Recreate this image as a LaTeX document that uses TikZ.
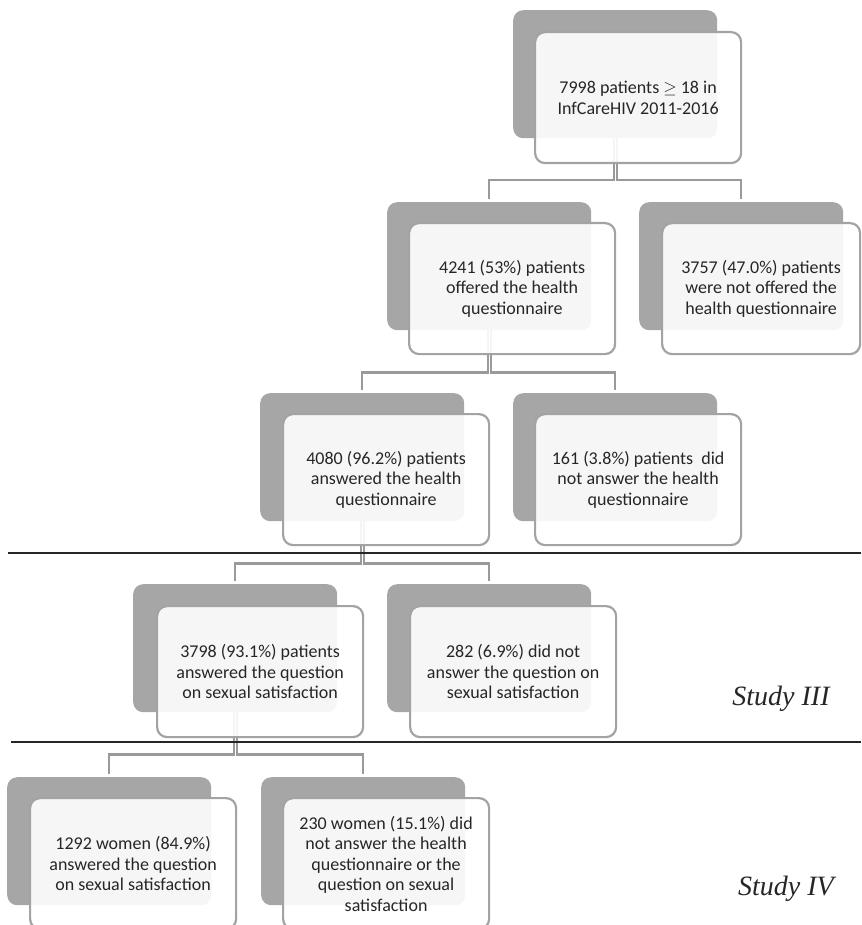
\documentclass[tikz,border=0pt]{standalone}
\usepackage{fontspec}
\setmainfont{Carlito}
\newfontfamily\studyfont{Liberation Serif}
\usetikzlibrary{calc}
\definecolor{darkbox}{HTML}{A6A6A6}
\definecolor{edgegray}{HTML}{A3A3A3}
\definecolor{conngray}{HTML}{9A9A9A}
\definecolor{txt}{HTML}{262626}
\newcommand\elbow[3]{\draw[conn] ($(#1.south)+(#3,0)$) -- ++(0,42) -| ($(#2.north)+(0,-3)$);}
\begin{document}
\begin{tikzpicture}[x=1pt,y=-1pt,
  back/.style={fill=darkbox, draw=none, rounded corners=10pt, anchor=north west,
    minimum width=204pt, minimum height=128pt, inner sep=0pt},
  front/.style={fill=white, fill opacity=0.9, text opacity=1, draw=edgegray, line width=2.2pt,
    rounded corners=10pt, anchor=north west, minimum width=206pt, minimum height=131pt,
    inner sep=0pt, align=center, text=txt, font=\fontsize{18}{20.5}\selectfont},
  conn/.style={draw=conngray, line width=2.2pt},
  rule/.style={draw=black!85, line width=1.3pt},
  study/.style={font=\studyfont\itshape\fontsize{28}{30}\selectfont, text=black!85, anchor=base}]
\useasboundingbox (0,0) rectangle (861,925);

% back boxes
\node[back] (tD)  at (513,10)  {};
\node[back] (aD)  at (387,202) {};
\node[back] (bD)  at (639,202) {};
\node[back] (cD)  at (260,393) {};
\node[back] (dD)  at (513,393) {};
\node[back] (eD)  at (133,584) {};
\node[back] (fD)  at (387,584) {};
\node[back] (gD)  at (7,777)   {};
\node[back] (hD)  at (261,777) {};

% connectors
\elbow{tD}{aD}{-1.5}
\elbow{tD}{bD}{1.5}
\elbow{aD}{cD}{-1.5}
\elbow{aD}{dD}{1.5}
\elbow{cD}{eD}{-1.5}
\elbow{cD}{fD}{1.5}
\elbow{eD}{gD}{-1.5}
\elbow{eD}{hD}{1.5}

% rules
\coordinate (r1a) at (8,553);
\coordinate (r1b) at (861,553);
\coordinate (r2a) at (11,742);
\coordinate (r2b) at (861,742);
\draw[rule] (r1a) -- (r1b);
\draw[rule] (r2a) -- (r2b);

% front boxes
\node[front] (tF) at (534,31)  {7998 patients $\geq$ 18 in\\InfCareHIV 2011-2016};
\node[front] (aF) at (408,222) {4241 (53\%) patients\\offered the health\\questionnaire};
\node[front, minimum width=198pt] (bF) at (661,222) {3757 (47.0\%) patients\\were not offered the\\health questionnaire};
\node[front] (cF) at (282,413) {4080 (96.2\%) patients\\answered the health\\questionnaire};
\node[front] (dF) at (534,413) {161 (3.8\%) patients\ \ did\\not answer the health\\questionnaire};
\node[front] (eF) at (156,605) {3798 (93.1\%) patients\\answered the question\\on sexual satisfaction};
\node[front] (fF) at (409,605) {282 (6.9\%) did not\\answer the question on\\sexual satisfaction};
\node[front] (gF) at (29,797)  {1292 women (84.9\%)\\answered the question\\on sexual satisfaction};
\node[front] (hF) at (282,797) {230 women (15.1\%) did\\not answer the health\\questionnaire or the\\question on sexual\\satisfaction};

% study labels
\node[study] (s3) at (781,705) {Study III};
\node[study] (s4) at (786,895) {Study IV};
\end{tikzpicture}
\end{document}
